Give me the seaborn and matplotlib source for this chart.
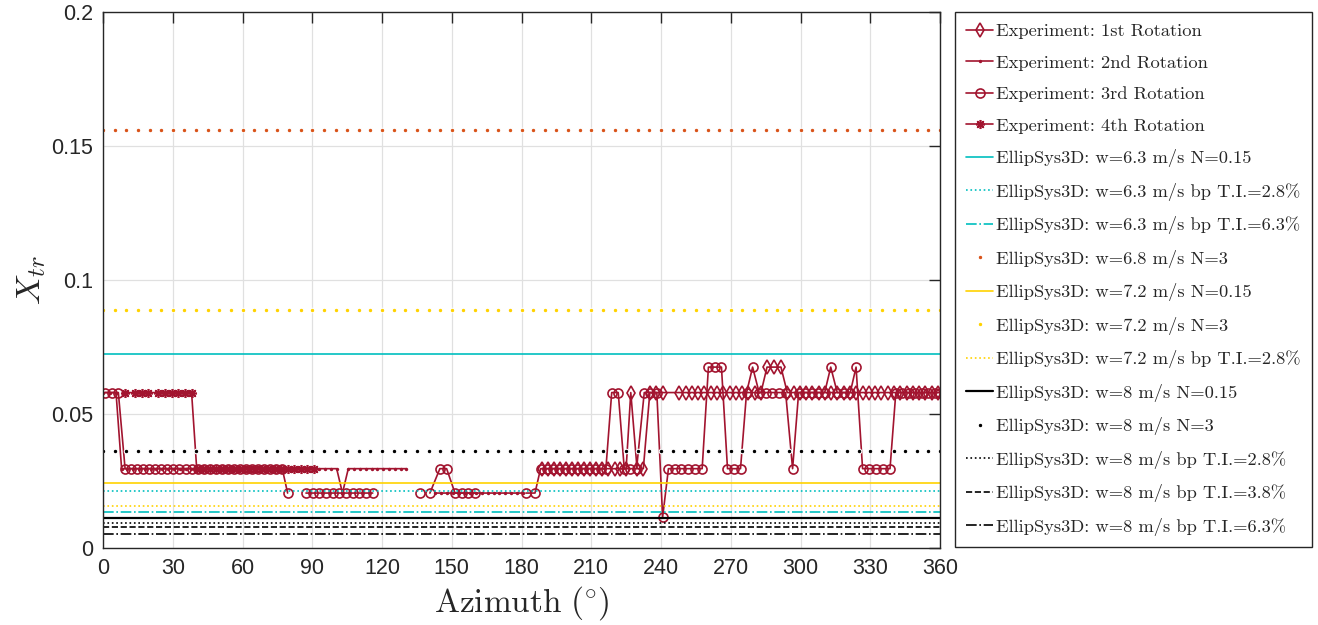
import numpy as np
import matplotlib
matplotlib.use("Agg")
import matplotlib.pyplot as plt
import seaborn as sns

nan = np.nan
# levels
H, M, L, T, B = 0.058, 0.0296, 0.0205, 0.0675, 0.0115

# ---------------- experiment data ----------------
rot1_az = [188.8, 191.4, 194.0, 196.6, 199.2, 201.8, 204.4, 207.0, 209.6, 212.2, 214.8, 217.4, 220.0, 222.5, 225.0,
           227.0, 229.7, 232.4, 235.2, 238.0, 241.0,
           247.9, 250.6, 253.3, 256.0, 258.7, 261.4, 264.1, 266.8, 269.5, 272.2, 274.9, 277.6, 280.3, 283.0,
           285.6, 288.6, 291.6,
           294.3, 297.0, 299.7, 302.4, 305.1, 307.8, 310.5, 313.2, 315.9, 318.6, 321.3, 324.0, 326.7, 329.4,
           332.1, 334.8, 337.5, 340.2, 342.9, 345.6, 348.3, 351.0, 353.7, 356.4, 359.1]
rot1_x = [M, M, M, M, M, M, M, M, M, M, M, M, M, M, M,
          H, M, M, H, H, H,
          H, H, H, H, H, H, H, H, H, H, H, H, H, H,
          T, T, T,
          H, H, H, H, H, H, H, H, H, H, H, H, H, H,
          H, H, H, H, H, H, H, H, H, H, H]

rot2_az = [0.0, 2.8, 5.6,
           8.0, 10.5, 13.0, 15.5, 18.0, 20.5, 23.0, 25.5, 28.0, 30.5, 33.0, 35.5, 38.0, 40.5, 43.0, 45.5, 48.0,
           50.5, 53.0, 55.5, 58.0, 60.5, 63.0, 65.5, 68.0, 70.5, 73.0, 75.5, 78.0, 80.5, 83.0, 85.5, 88.0,
           90.5, 93.0, 95.5, 98.0, 100.5, 103.0, 105.5, 108.0, 110.5, 113.0, 115.5, 118.0, 120.5, 123.0,
           125.5, 128.0, 130.5, nan,
           143.0, 145.5, 148.0, 150.5, 153.0, 155.5, 158.0, 160.5, 163.0, 165.5, 168.0, 170.5, 173.0, 175.5,
           178.0, 180.5]
rot2_x = [H, H, H,
          M, M, M, M, M, M, M, M, M, M, M, M, M, M, M, M, M,
          M, M, M, M, M, M, M, M, M, M, M, M, M, M, M, M,
          M, M, M, M, M, L, M, M, M, M, M, M, M, M,
          M, M, M, nan,
          L, L, L, L, L, L, L, L, L, L, L, L, L, L,
          L, L]

rot3_az = [0.9, 3.7, 6.6,
           9.5, 12.1, 14.7, 17.3, 19.9, 22.5, 25.1, 27.7, 30.3, 32.9, 35.5, 38.1, 40.7, 43.3, 45.9, 48.5,
           51.1, 53.7, 56.3, 58.9, 61.5, 64.1, 66.7, 69.3, 71.9, 74.5, 77.1, 79.4, nan,
           87.3, 90.2, 93.0, 95.9, 98.8, 101.6, 104.5, 107.4, 110.2, 113.1, 116.0, nan,
           136.3, nan,
           140.6, 144.9, 147.8, 151.4, 154.3, 157.1, 160.0, nan,
           181.9, 185.8, 188.2, 190.8, 193.4, 196.0, 198.6, 201.2, 203.8, 206.4, 209.0, 211.6, 214.2, 216.3,
           218.8, 221.6, 224.2, 226.8, 229.5, 232.8, 235.3, 238.2, 240.7,
           243.2, 246.0, 248.8, 251.6, 254.6, 257.7, 260.4, 263.2, 266.0, 268.6, 271.4, 274.2,
           276.8, 279.4, 282.2, 285.0, 287.8, 290.6, 293.6, 296.6, 299.2, 302.0, 304.8, 307.6, 310.4,
           313.0, 315.8, 318.6, 321.4, 323.9, 326.7, 329.6, 332.6, 335.6, 338.5,
           341.0, 343.8, 346.6, 349.4, 352.2, 355.0, 357.8, 360.0]
rot3_x = [H, H, H,
          M, M, M, M, M, M, M, M, M, M, M, M, M, M, M, M,
          M, M, M, M, M, M, M, M, M, M, M, L, nan,
          L, L, L, L, L, L, L, L, L, L, L, nan,
          L, nan,
          L, M, M, L, L, L, L, nan,
          L, L, M, M, M, M, M, M, M, M, M, M, M, M,
          H, H, M, M, M, H, H, H, B,
          M, M, M, M, M, M, T, T, T, M, M, M,
          H, T, H, H, H, H, H, M, H, H, H, H, H,
          T, H, H, H, T, M, M, M, M, M,
          H, H, H, H, H, H, H, H]

rot4_az = [9.5, 13.8, 16.6, 19.5, 23.8, 26.7, 29.5, 32.4, 35.3, 38.1,
           40.3, 43.1, 45.9, 48.7, 51.5, 54.3, 57.1, 59.9, 62.7, 65.5, 68.3, 71.1, 73.9, 76.7, 79.5,
           82.3, 85.1, 87.9, 90.7]
rot4_x = [H, H, H, H, H, H, H, H, H, H,
          M, M, M, M, M, M, M, M, M, M, M, M, M, M, M,
          M, M, M, M]

# ---------------- EllipSys3D constant levels ----------------
sim_labels = ["EllipSys3D: w=6.3 m/s N=0.15",
              "EllipSys3D: w=6.3 m/s bp T.I.=2.8%",
              "EllipSys3D: w=6.3 m/s bp T.I.=6.3%",
              "EllipSys3D: w=6.8 m/s N=3",
              "EllipSys3D: w=7.2 m/s N=0.15",
              "EllipSys3D: w=7.2 m/s N=3",
              "EllipSys3D: w=7.2 m/s bp T.I.=2.8%",
              "EllipSys3D: w=8 m/s N=0.15",
              "EllipSys3D: w=8 m/s N=3",
              "EllipSys3D: w=8 m/s bp T.I.=2.8%",
              "EllipSys3D: w=8 m/s bp T.I.=3.8%",
              "EllipSys3D: w=8 m/s bp T.I.=6.3%"]
sim_values = [0.0724, 0.0213, 0.0133, 0.156, 0.0243, 0.0888, 0.0158, 0.0113, 0.0362, 0.0094, 0.0078, 0.0053]

exp_labels = ["Experiment: 1st Rotation", "Experiment: 2nd Rotation",
              "Experiment: 3rd Rotation", "Experiment: 4th Rotation"]

x_ticks = [0, 30, 60, 90, 120, 150, 180, 210, 240, 270, 300, 330, 360]
y_ticks = [0, 0.05, 0.1, 0.15, 0.2]
y_ticklabels = ["0", "0.05", "0.1", "0.15", "0.2"]

# ---------------- styling ----------------
sns.set_theme(style="white")
plt.rcParams["font.family"] = ["Liberation Sans", "DejaVu Sans"]
plt.rcParams["mathtext.fontset"] = "cm"

RED = "#A2142F"
CYAN = "#00BFBF"
ORANGE = "#D95319"
YELLOW = "#FFD200"
BLACK = "#000000"

sim_styles = [
    dict(color=CYAN, linestyle="-", linewidth=1.2),
    dict(color=CYAN, linestyle=":", linewidth=1.2),
    dict(color=CYAN, linestyle="-.", linewidth=1.2),
    dict(color=ORANGE, linestyle="none", marker=".", markersize=6.5),
    dict(color=YELLOW, linestyle="-", linewidth=1.2),
    dict(color=YELLOW, linestyle="none", marker=".", markersize=6.5),
    dict(color=YELLOW, linestyle=":", linewidth=1.2),
    dict(color=BLACK, linestyle="-", linewidth=1.6),
    dict(color=BLACK, linestyle="none", marker=".", markersize=6.5),
    dict(color=BLACK, linestyle=":", linewidth=1.2),
    dict(color=BLACK, linestyle="--", linewidth=1.2),
    dict(color=BLACK, linestyle="-.", linewidth=1.2),
]

fig = plt.figure(figsize=(13.18, 6.25), dpi=100)
ax = fig.add_axes([103 / 1318, 1 - 548 / 625, (940 - 103) / 1318, (548 - 12) / 625])

exp_sets = [(rot1_az, rot1_x, dict(marker="d", markersize=7.5)),
            (rot2_az, rot2_x, dict(marker=".", markersize=2.5)),
            (rot3_az, rot3_x, dict(marker="o", markersize=6.5)),
            (rot4_az, rot4_x, dict(marker=(8, 2, 0), markersize=6.5))]
for (az, xv, mk), lab in zip(exp_sets, exp_labels):
    ax.plot(az, xv, color=RED, linewidth=1.2, markerfacecolor="none",
            markeredgecolor=RED, markeredgewidth=1.2, label=lab, **mk)

marker_grid = np.arange(0, 361, 5)
for val, lab, st in zip(sim_values, sim_labels, sim_styles):
    if st.get("linestyle") == "none":
        xs = marker_grid
    else:
        xs = np.array([0, 360])
    sns.lineplot(x=xs, y=np.full(len(xs), val), ax=ax, label=lab, **st)

ax.set_xlim(0, 360)
ax.set_ylim(0, 0.2)
ax.set_xticks(x_ticks)
ax.set_yticks(y_ticks)
ax.set_yticklabels(y_ticklabels)
ax.grid(True, color="#e0e0e0", linewidth=0.9)
ax.set_axisbelow(True)
ax.tick_params(direction="in", top=True, right=True, length=8, width=1,
               labelsize=15.5, colors="#262626", pad=7)
for sp in ax.spines.values():
    sp.set_color("#262626")
    sp.set_linewidth(1.0)

ax.set_xlabel(r"$\mathrm{Azimuth}\ (\!^\circ\!)$", fontsize=24, labelpad=4)
ax.set_ylabel(r"$X_{tr}$", fontsize=25, labelpad=2)

handles, labels = ax.get_legend_handles_labels()
leg = fig.legend(handles, labels, loc="upper left",
                 bbox_to_anchor=(955 / 1318, 1 - 12 / 625),
                 prop={"family": "cmr10", "size": 13.3}, frameon=True, fancybox=False,
                 edgecolor="#262626", framealpha=1, borderaxespad=0, borderpad=0.62,
                 handlelength=1.45, handletextpad=0.15, labelspacing=0.84, numpoints=1)
leg.get_frame().set_linewidth(1.0)
if ax.get_legend() is not None:
    ax.get_legend().remove()

fig.savefig("out.png", dpi=100)
